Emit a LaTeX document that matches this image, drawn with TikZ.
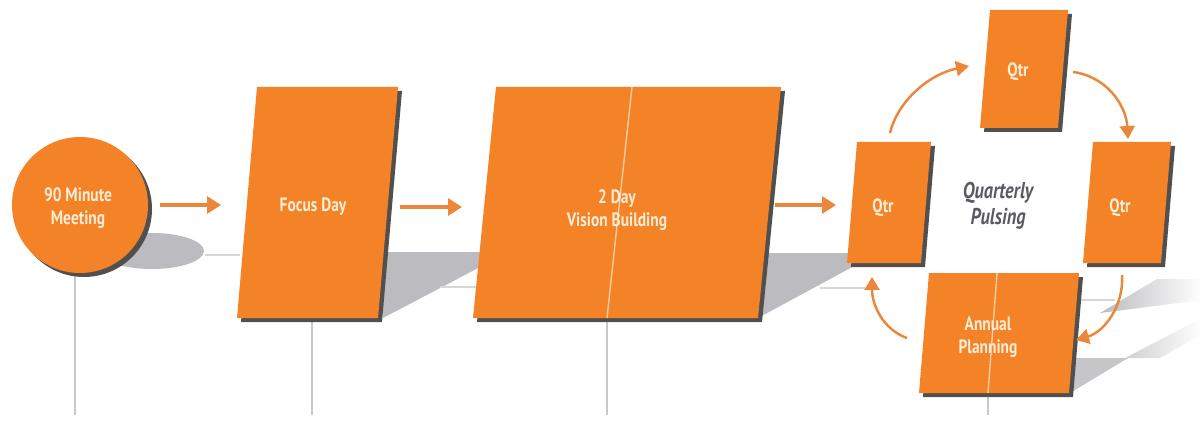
\documentclass[tikz,border=0pt]{standalone}
\usepackage{fontspec}
\newfontfamily\boxfont{PT Sans}[FakeStretch=0.8]
\usetikzlibrary{arrows.meta}

\definecolor{slab}{RGB}{243,131,38}
\definecolor{slabedge}{RGB}{82,80,78}
\definecolor{floorgrey}{RGB}{188,188,192}
\definecolor{flow}{RGB}{236,134,58}
\definecolor{polegrey}{RGB}{200,200,204}
\definecolor{boxtext}{RGB}{253,236,214}
\definecolor{hubtext}{RGB}{90,90,98}

\tikzset{
  slabtext/.style={text=boxtext, font=\boxfont\bfseries\fontsize{11}{13}\selectfont, align=center},
  flowarrow/.style={draw=flow, line width=1.8pt, -{Triangle[length=0.28cm,width=0.34cm]}},
  cyclearrow/.style={draw=flow, line width=1.4pt, -{Triangle[length=0.26cm,width=0.3cm]}},
  poleline/.style={draw=polegrey, line width=0.9pt},
  seam/.style={draw=boxtext!70!slab, line width=0.8pt},
  floorline/.style={draw=floorgrey!60, line width=0.6pt}
}

\begin{document}
\begin{tikzpicture}[x=0.02cm, y=-0.02cm]
  \useasboundingbox (0,0) rectangle (1202,422);

  % Floor shadows
  \fill[floorgrey] (152,251) ellipse (52 and 18);
  \fill[floorgrey] (380,252) -- (482,252) -- (482,266) -- (383,318) -- cycle;
  \fill[floorgrey] (756,253) -- (852,253) -- (856,265) -- (758,318) -- cycle;
  \shade[left color=floorgrey, right color=white] (1100,313) -- (1157,279) -- (1202,279) -- (1202,300) -- cycle;
  \shade[left color=floorgrey!70, right color=white] (1125,358) -- (1202,318) -- (1202,334) -- (1160,358) -- cycle;
  \fill[floorgrey!85] (1070,358) -- (1128,358) -- (1070,393) -- cycle;
  \draw[floorline] (205,255) -- (240,255);
  \draw[floorline] (440,287) -- (477,287);
  \draw[floorline] (820,288) -- (865,288);
  \draw[floorline] (1070,300) -- (1115,300);

  % Poles
  \draw[poleline] (75,272) -- (75,415);
  \draw[poleline] (312,318) -- (312,415);
  \draw[poleline] (607,318) -- (607,415);
  \draw[poleline] (988,393) -- (988,415);

  % 90 minute meeting
  \fill[slabedge] (84,209) circle (68);
  \fill[slab] (80,205) circle (68);
  \node[slabtext] (meeting) at (78,208) {90 Minute\\Meeting};

  % Focus day
  \fill[slabedge] (261,91) -- (402,91) -- (382,322) -- (241,322) -- cycle;
  \fill[slab] (257,87) -- (398,87) -- (378,318) -- (237,318) -- cycle;
  \node[slabtext] (focus) at (313,207) {Focus Day};

  % Vision building
  \fill[slabedge] (500,91) -- (785,91) -- (762,322) -- (477,322) -- cycle;
  \fill[slab] (496,87) -- (781,87) -- (758,318) -- (473,318) -- cycle;
  \draw[seam] (632,87) -- (607,318);
  \node[slabtext] (vision) at (617,210) {2 Day\\Vision Building};

  % Quarterly slabs
  \fill[slabedge] (861,146) -- (935,146) -- (925,267) -- (851,267) -- cycle;
  \fill[slab] (857,142) -- (931,142) -- (921,263) -- (847,263) -- cycle;
  \node[slabtext] (qleft) at (883,208) {Qtr};

  \fill[slabedge] (994,14) -- (1072,14) -- (1062,132) -- (984,132) -- cycle;
  \fill[slab] (990,10) -- (1068,10) -- (1058,128) -- (980,128) -- cycle;
  \node[slabtext] (qtop) at (1018,72) {Qtr};

  \fill[slabedge] (1097,146) -- (1175,146) -- (1165,267) -- (1087,267) -- cycle;
  \fill[slab] (1093,142) -- (1171,142) -- (1161,263) -- (1083,263) -- cycle;
  \node[slabtext] (qright) at (1120,208) {Qtr};

  \fill[slabedge] (933,277) -- (1083,277) -- (1073,397) -- (923,397) -- cycle;
  \fill[slab] (929,273) -- (1079,273) -- (1069,393) -- (919,393) -- cycle;
  \draw[seam] (997,273) -- (988,393);
  \node[slabtext] (annual) at (988,337) {Annual\\Planning};

  \node[text=hubtext, font=\boxfont\bfseries\itshape\fontsize{13}{15}\selectfont, align=center] (hub) at (998,206) {Quarterly\\Pulsing};

  % Flow arrows
  \coordinate (a1s) at (160,205);  \coordinate (a1e) at (221,205);
  \coordinate (a2s) at (400,207);  \coordinate (a2e) at (462,207);
  \coordinate (a3s) at (775,205);  \coordinate (a3e) at (836,205);
  \draw[flowarrow] (a1s) -- (a1e);
  \draw[flowarrow] (a2s) -- (a2e);
  \draw[flowarrow] (a3s) -- (a3e);

  % Cycle arrows
  \coordinate (c1s) at (890,133);  \coordinate (c1e) at (969,66);
  \coordinate (c2s) at (1073,72);  \coordinate (c2e) at (1128,139);
  \coordinate (c3s) at (1122,275); \coordinate (c3e) at (1076,340);
  \coordinate (c4s) at (907,338);  \coordinate (c4e) at (872,277);
  \draw[cyclearrow] (c1s) .. controls (898,100) and (930,74) .. (c1e);
  \draw[cyclearrow] (c2s) .. controls (1105,76) and (1126,104) .. (c2e);
  \draw[cyclearrow] (c3s) .. controls (1124,306) and (1104,332) .. (c3e);
  \draw[cyclearrow] (c4s) .. controls (884,330) and (872,306) .. (c4e);

\end{tikzpicture}
\end{document}
